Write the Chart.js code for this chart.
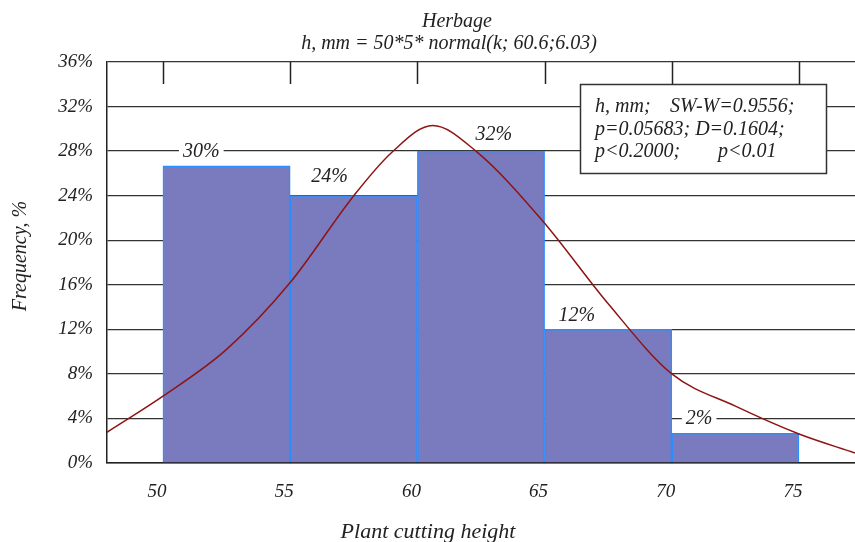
<!DOCTYPE html>
<html><head><meta charset="utf-8">
<script src="https://cdn.jsdelivr.net/npm/chart.js@4.4.1/dist/chart.umd.min.js"></script>
<style>html,body{margin:0;padding:0;background:#fff}#wrap{width:855px;height:542px;position:relative}</style>
</head><body><div id="wrap"><canvas id="c" width="855" height="542"></canvas></div>
<script>
// ---- data ----
const binCenters = [52.5, 57.5, 62.5, 67.5, 72.5];
const binFreq = [26.67, 24.0, 28.0, 12.0, 2.67];
const binLabels = ['30%', '24%', '32%', '12%', '2%'];
const curveX = [47.8, 50, 52.5, 55, 57.5, 59, 60.6, 62.3, 64.9, 67.5, 70, 72.5, 75, 77.2];
const curveY = [2.76, 6.0, 10.2, 16.2, 24.0, 27.9, 30.3, 28.0, 21.8, 14.3, 8.0, 5.1, 2.6, 0.9];
const xTicks = [50, 55, 60, 65, 70, 75];
const yTicks = [0, 4, 8, 12, 16, 20, 24, 28, 32, 36];
const titleLines = ['Herbage', 'h, mm = 50*5* normal(k; 60.6;6.03)'];
const xTitle = 'Plant cutting height';
const yTitle = 'Frequency, %';
const statsText = [['h, mm;', 'SW-W=0.9556;'], ['p=0.05683; D=0.1604;', ''], ['p<0.2000;', 'p<0.01']];

// ---- style ----
const SERIF = '"Liberation Serif", "Times New Roman", serif';
const labelDx = [20, 21, 58, 14, 14];
const labelDy = [-14, -19, -16, -14, -15];

const decor = {
  id: 'decor',
  beforeDatasetsDraw(chart) {
    const {ctx, chartArea: a, scales: {x}} = chart;
    ctx.save();
    ctx.strokeStyle = '#222'; ctx.lineWidth = 1.5;
    xTicks.forEach(v => {
      const px = Math.round(x.getPixelForValue(v)) + 0.5;
      ctx.beginPath(); ctx.moveTo(px, a.top); ctx.lineTo(px, a.top + 22); ctx.stroke();
    });
    ctx.font = 'italic 20px ' + SERIF;
    ctx.textBaseline = 'middle';
    ctx.textAlign = 'left';
    const meta = chart.getDatasetMeta(0);
    meta.data.forEach((bar, i) => {
      const left = bar.x - bar.width / 2;
      const tx = left + labelDx[i], ty = bar.y + labelDy[i];
      const w = ctx.measureText(binLabels[i]).width;
      ctx.fillStyle = '#fff'; ctx.fillRect(tx - 4, ty - 9, w + 8, 18);
      ctx.fillStyle = '#222'; ctx.fillText(binLabels[i], tx, ty);
    });
    ctx.restore();
  },
  afterDraw(chart) {
    const {ctx} = chart;
    ctx.save();
    ctx.fillStyle = '#222';
    ctx.textAlign = 'center'; ctx.textBaseline = 'alphabetic';
    ctx.font = 'italic 20px ' + SERIF;
    ctx.fillText(titleLines[0], 457, 27);
    ctx.fillText(titleLines[1], 449, 49);
    ctx.font = 'italic 22px ' + SERIF;
    ctx.fillText(xTitle, 428, 538);
    ctx.textBaseline = 'middle';
    ctx.font = 'italic 20px ' + SERIF;
    ctx.save();
    ctx.translate(21, 256); ctx.rotate(-Math.PI / 2);
    ctx.fillText(yTitle, 0, 0);
    ctx.restore();
    // stats box
    ctx.fillStyle = '#fff';
    ctx.fillRect(580, 84, 246, 89);
    ctx.strokeStyle = '#333'; ctx.lineWidth = 1.5;
    ctx.strokeRect(580.5, 84.5, 246, 89);
    ctx.fillStyle = '#222';
    ctx.textAlign = 'left';
    ctx.font = 'italic 20px ' + SERIF;
    const ys = [107, 130, 152];
    const x2 = [670, 0, 718];
    statsText.forEach((ln, i) => {
      ctx.fillText(ln[0], 595, ys[i]);
      if (ln[1]) ctx.fillText(ln[1], x2[i], ys[i]);
    });
    ctx.restore();
  }
};

new Chart(document.getElementById('c'), {
  type: 'bar',
  data: {
    datasets: [
      {
        type: 'bar',
        data: binCenters.map((c, i) => ({x: c, y: binFreq[i]})),
        backgroundColor: '#7A7ABE',
        borderColor: '#2B8EFF',
        borderWidth: 1.5,
        borderSkipped: 'bottom',
        barPercentage: 1,
        categoryPercentage: 1,
        grouped: false,
        order: 2
      },
      {
        type: 'line',
        data: curveX.map((v, i) => ({x: v, y: curveY[i]})),
        borderColor: '#8E1414',
        borderWidth: 1.5,
        pointRadius: 0,
        cubicInterpolationMode: 'monotone',
        fill: false,
        order: 1
      }
    ]
  },
  options: {
    responsive: false,
    animation: false,
    devicePixelRatio: 1,
    layout: {padding: {top: 62, left: 0, right: 0, bottom: 0}},
    plugins: {legend: {display: false}, tooltip: {enabled: false}, title: {display: false}},
    scales: {
      x: {
        type: 'linear',
        min: 47.8, max: 77.2,
        offset: false,
        afterFit(s) { s.height = 79; },
        afterBuildTicks(s) { s.ticks = xTicks.map(v => ({value: v})); },
        grid: {display: false, drawTicks: false},
        border: {display: true, color: '#222', width: 1.5},
        ticks: {
          padding: 18, labelOffset: -6, color: '#222',
          font: {family: SERIF, size: 19, style: 'italic'},
          maxRotation: 0, autoSkip: false,
          callback: v => String(v)
        }
      },
      y: {
        min: 0, max: 36,
        afterFit(s) { s.width = 107; },
        afterBuildTicks(s) { s.ticks = yTicks.map(v => ({value: v})); },
        grid: {color: '#333', lineWidth: 1.3, drawTicks: false},
        border: {display: true, color: '#222', width: 1.5},
        ticks: {
          padding: 14, color: '#222',
          font: {family: SERIF, size: 19, style: 'italic'},
          callback: v => v + '%'
        }
      }
    }
  },
  plugins: [decor]
});
</script></body></html>
